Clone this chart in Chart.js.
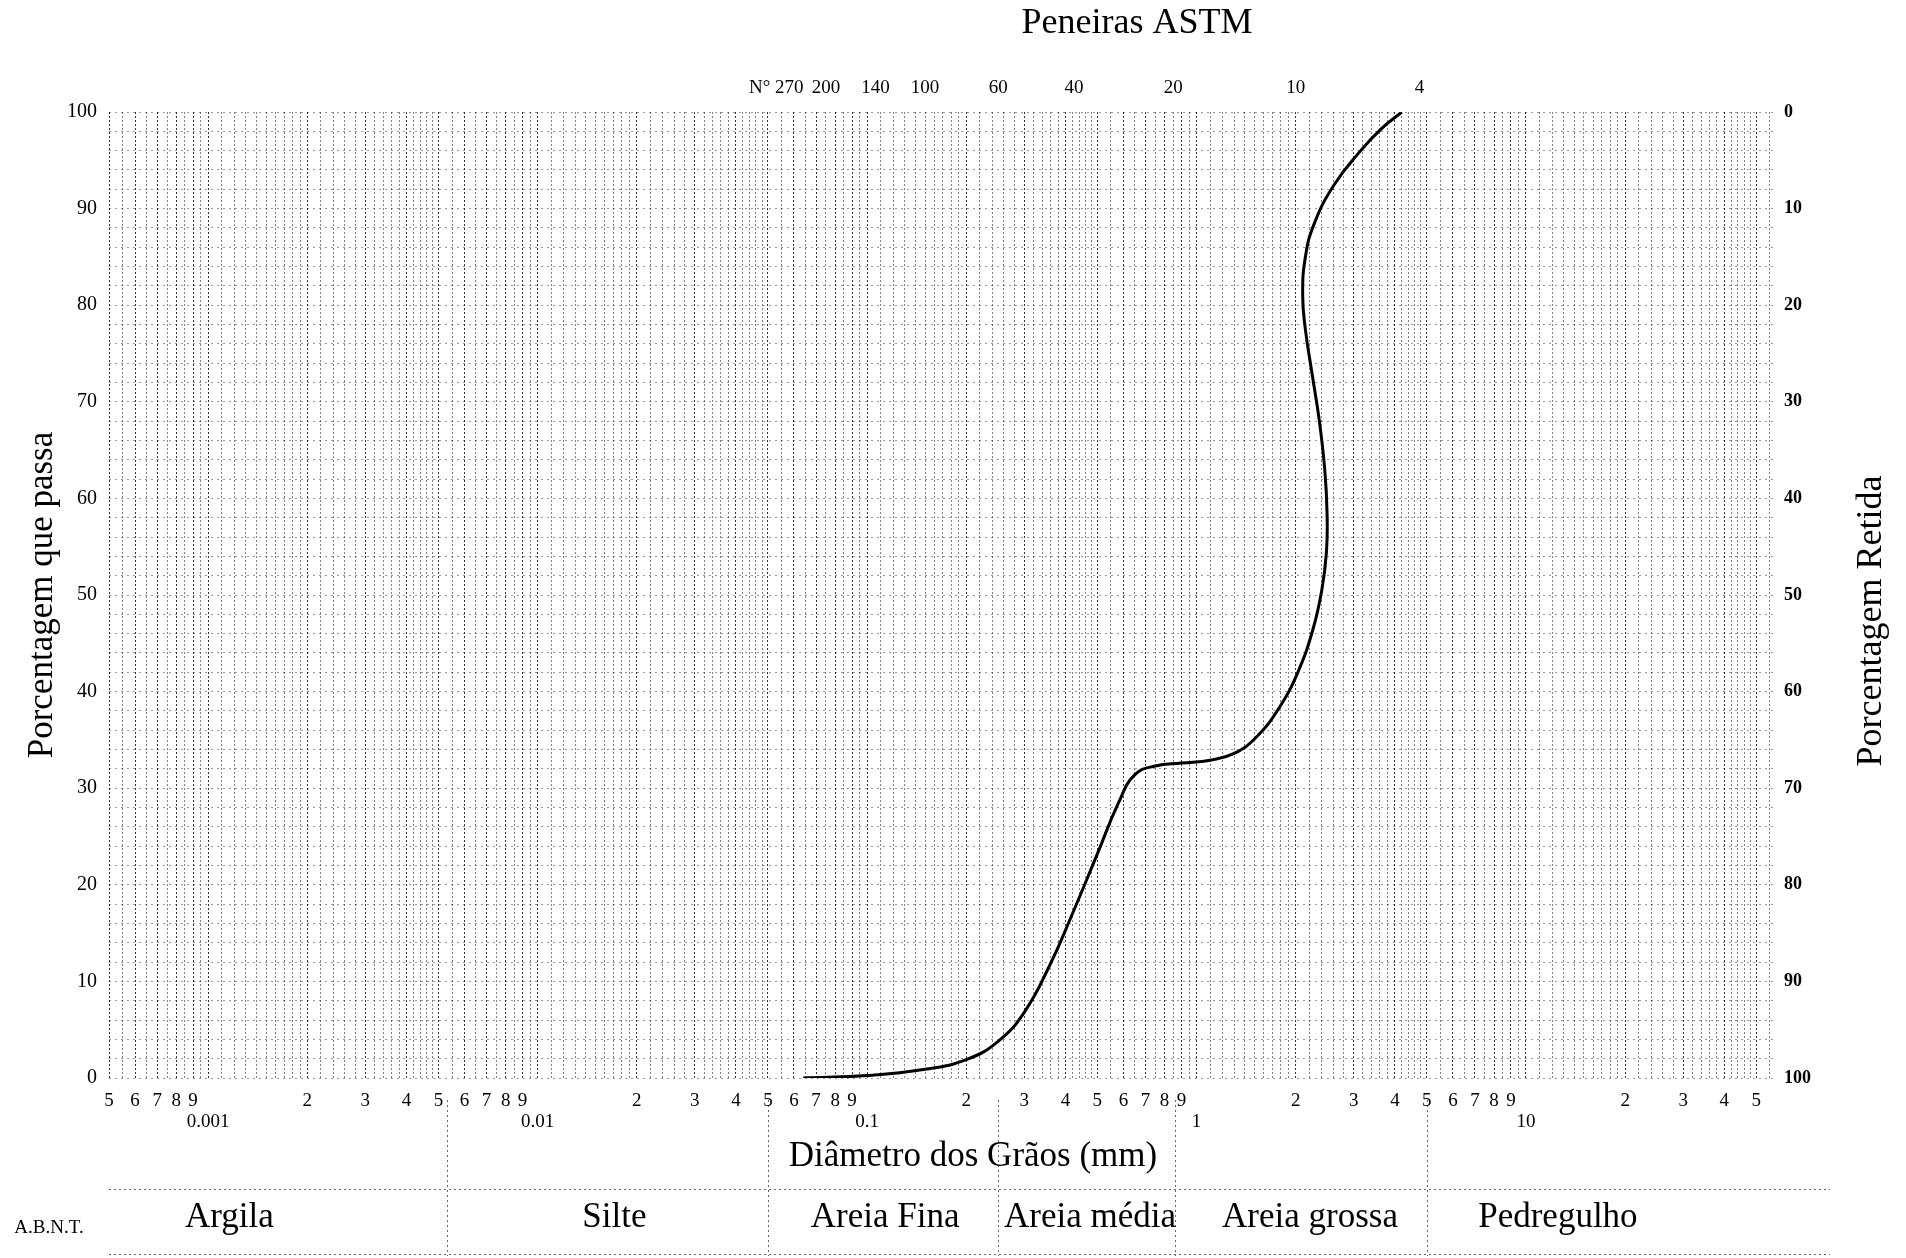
<!DOCTYPE html>
<html>
<head>
<meta charset="utf-8">
<script src="https://cdn.jsdelivr.net/npm/chart.js@4.4.0/dist/chart.umd.min.js"></script>
<style>
  html, body { margin: 0; padding: 0; background: #fff; }
  #granulo { display: block; }
</style>
</head>
<body>
<canvas id="granulo" width="1906" height="1258"></canvas>
<script>
// curva granulometrica (diametro em mm, % que passa)
var diametro = [0.064, 0.1, 0.15, 0.2, 0.25, 0.3, 0.36, 0.42, 0.5, 0.58, 0.65, 0.75, 0.9, 1.1, 1.3, 1.52, 1.78, 2.03, 2.25, 2.4, 2.48, 2.49, 2.45, 2.36, 2.24, 2.14, 2.1, 2.14, 2.28, 2.62, 3.15, 3.65, 4.2];
var passa = [0, 0.25, 0.9, 1.9, 3.8, 6.8, 11.8, 17, 23.2, 28.5, 31.4, 32.3, 32.6, 32.9, 33.6, 35.3, 38.3, 42, 46.3, 50.5, 54.5, 58.5, 63, 68, 73, 77.5, 81, 85, 88.5, 92.5, 96, 98.3, 100];

// eixo x (papel semi-log)
var xMin = 0.0005, xMax = 57;
var decadas = [0.0001, 0.001, 0.01, 0.1, 1, 10];
var decadaRotulo = ['', '0.001', '0.01', '0.1', '1', '10'];
var subdivisoes = [1, 1.1, 1.2, 1.3, 1.4, 1.5, 1.6, 1.7, 1.8, 1.9,
                   2, 2.2, 2.4, 2.6, 2.8, 3, 3.2, 3.4, 3.6, 3.8, 4, 4.2, 4.4, 4.6, 4.8,
                   5, 5.5, 6, 6.5, 7, 7.5, 8, 8.5, 9, 9.5];

// peneiras ASTM
var peneiraAbertura = [0.053, 0.075, 0.106, 0.15, 0.25, 0.425, 0.85, 2, 4.75];
var peneiraNumero = ['N° 270', '200', '140', '100', '60', '40', '20', '10', '4'];

// classificacao A.B.N.T.
var abntLimites = [0.0053, 0.05, 0.25, 0.86, 5];
var abntClasses = ['Argila', 'Silte', 'Areia Fina', 'Areia média', 'Areia grossa', 'Pedregulho'];
var abntCentro = [0.00116, 0.0171, 0.1135, 0.475, 2.21, 12.5];

var serifa = '"Liberation Serif", "Times New Roman", serif';
Chart.defaults.font.family = serifa;
Chart.defaults.color = '#000';

// monta a grade do eixo x
var gradeX = [];
decadas.forEach(function (d, i) {
  subdivisoes.forEach(function (m) {
    var v = m * d;
    if (v < xMin * 0.999 || v > xMax) return;
    var rot = '';
    if (m === 1) rot = ['', decadaRotulo[i]];
    else if (Math.round(m) === m) rot = String(m);
    gradeX.push({ v: v, inteiro: Math.round(m) === m, rot: rot });
  });
});

var pontos = diametro.map(function (d, i) { return { x: d, y: passa[i] }; });

var extras = {
  id: 'extras',
  afterDraw: function (chart) {
    var ctx = chart.ctx, sx = chart.scales.x, area = chart.chartArea;
    ctx.save();
    ctx.fillStyle = '#000';
    ctx.textAlign = 'center';
    ctx.textBaseline = 'middle';

    ctx.font = '36px ' + serifa;
    ctx.fillText('Peneiras ASTM', 1137, 24);

    ctx.font = '35px ' + serifa;
    ctx.fillText('Diâmetro dos Grãos (mm)', 973, 1157);

    ctx.save();
    ctx.translate(1872, 621);
    ctx.rotate(-Math.PI / 2);
    ctx.font = '36px ' + serifa;
    ctx.fillText('Porcentagem Retida', 0, 0);
    ctx.restore();

    // faixa A.B.N.T.
    ctx.strokeStyle = 'rgba(0,0,0,0.6)';
    ctx.lineWidth = 1;
    ctx.setLineDash([2, 3]);
    [1189, 1254].forEach(function (y) {
      ctx.beginPath();
      ctx.moveTo(area.left, y + 0.5);
      ctx.lineTo(1830, y + 0.5);
      ctx.stroke();
    });
    abntLimites.forEach(function (v) {
      var px = Math.round(sx.getPixelForValue(v)) + 0.5;
      ctx.beginPath();
      ctx.moveTo(px, 1100);
      ctx.lineTo(px, 1256);
      ctx.stroke();
    });
    ctx.setLineDash([]);

    ctx.font = '19px ' + serifa;
    ctx.fillText('A.B.N.T.', 49, 1228);
    ctx.font = '35px ' + serifa;
    abntClasses.forEach(function (c, i) {
      ctx.fillText(c, sx.getPixelForValue(abntCentro[i]), 1218);
    });
    ctx.restore();
  }
};

var ctx = document.getElementById('granulo').getContext('2d');
var grafico = new Chart(ctx, {
  type: 'line',
  data: {
    datasets: [{
      data: pontos,
      borderColor: '#000',
      borderWidth: 3,
      pointRadius: 0,
      tension: 0.45,
      fill: false,
      xAxisID: 'x',
      yAxisID: 'y'
    }]
  },
  options: {
    responsive: false,
    devicePixelRatio: 1,
    animation: false,
    layout: { padding: 0 },
    plugins: { legend: { display: false }, tooltip: { enabled: false } },
    scales: {
      x: {
        type: 'logarithmic',
        position: 'bottom',
        min: xMin,
        max: xMax,
        afterBuildTicks: function (s) {
          s.ticks = gradeX.map(function (t) { return { value: t.v }; });
        },
        afterFit: function (s) { s.height = 180; },
        ticks: {
          autoSkip: false,
          maxRotation: 0,
          padding: 13,
          font: { size: 19, lineHeight: 1.1 },
          callback: function (v, i) { return gradeX[i] ? gradeX[i].rot : ''; }
        },
        grid: {
          drawTicks: false,
          lineWidth: 1,
          color: function (c) {
            var t = gradeX[c.index];
            return t && t.inteiro ? 'rgba(0,0,0,0.8)' : 'rgba(0,0,0,0.5)';
          }
        },
        border: { display: false, dash: [2, 2] }
      },
      xTopo: {
        type: 'logarithmic',
        position: 'top',
        min: xMin,
        max: xMax,
        afterBuildTicks: function (s) {
          s.ticks = peneiraAbertura.map(function (v) { return { value: v }; });
        },
        afterFit: function (s) { s.height = 112; },
        ticks: {
          autoSkip: false,
          maxRotation: 0,
          padding: 14,
          font: { size: 19, lineHeight: 1.1 },
          callback: function (v, i) { return peneiraNumero[i]; }
        },
        grid: { display: false, drawTicks: false },
        border: { display: false }
      },
      y: {
        type: 'linear',
        position: 'left',
        min: 0,
        max: 100,
        afterFit: function (s) { s.width = 109; },
        ticks: {
          stepSize: 2,
          autoSkip: false,
          padding: 12,
          font: { size: 20 },
          callback: function (v) { return v % 10 === 0 ? String(v) : ''; }
        },
        title: {
          display: true,
          text: 'Porcentagem que passa',
          font: { size: 35 },
          padding: { top: 22, bottom: 0 }
        },
        grid: { drawTicks: false, color: 'rgba(0,0,0,0.4)', lineWidth: 1 },
        border: { display: false, dash: [2, 4] }
      },
      y2: {
        type: 'linear',
        position: 'right',
        reverse: true,
        min: 0,
        max: 100,
        afterFit: function (s) { s.width = 131; },
        ticks: {
          stepSize: 10,
          padding: 9,
          font: { size: 18, weight: 'bold' }
        },
        grid: { display: false, drawTicks: false },
        border: { display: false }
      }
    }
  },
  plugins: [extras]
});
</script>
</body>
</html>
